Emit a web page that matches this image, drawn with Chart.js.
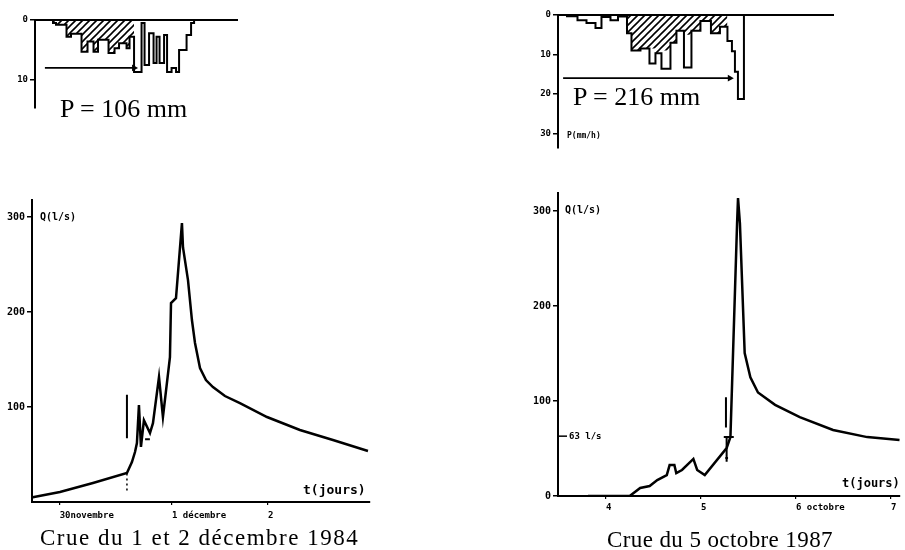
<!DOCTYPE html>
<html>
<head>
<meta charset="utf-8">
<script src="https://cdn.jsdelivr.net/npm/chart.js@4"></script>
<style>
  body { margin: 0; background: #fff; }
  #page { position: relative; width: 905px; height: 550px; overflow: hidden; }
  canvas, .txt { position: absolute; }
  .txt { white-space: nowrap; line-height: 1; color: #000; }
  .serif { font-family: 'Liberation Serif', serif; }
  .lab { font-family: 'DejaVu Sans Mono', monospace; font-weight: bold; }
</style>
</head>
<body>
<div id="page">
  <canvas id="hyetoLeft" width="245" height="111" style="left:0;top:5px"></canvas>
  <canvas id="hyetoRight" width="320" height="156" style="left:520px;top:0"></canvas>
  <canvas id="hydroLeft" width="378" height="340" style="left:0;top:190px"></canvas>
  <canvas id="hydroRight" width="385" height="340" style="left:520px;top:183px"></canvas>

  <div class="txt serif" style="left:60px;top:96px;font-size:26px">P = 106 mm</div>
  <div class="txt serif" style="left:573px;top:84px;font-size:26px">P = 216 mm</div>
  <div class="txt lab" style="left:567px;top:132px;font-size:8px">P(mm/h)</div>
  <div class="txt lab" style="left:40px;top:212px;font-size:10px">Q(l/s)</div>
  <div class="txt lab" style="left:565px;top:205px;font-size:10px">Q(l/s)</div>
  <div class="txt lab" style="left:303px;top:483px;font-size:13px">t(jours)</div>
  <div class="txt lab" style="left:842px;top:477px;font-size:12px">t(jours)</div>
  <div class="txt serif" style="left:40px;top:526px;font-size:23px;letter-spacing:1.5px">Crue du 1 et 2 décembre 1984</div>
  <div class="txt serif" style="left:607px;top:528px;font-size:23px;letter-spacing:0.4px">Crue du 5 octobre 1987</div>
</div>

<script>
// --- hyetograph 1984 (t = hours from axis origin, P = mm/h) ---
const hyLeftT = [6, 7, 10.5, 12, 15.5, 17.5, 19.5, 21, 24.5, 26.5, 28, 30.5, 31.5, 33,
  35.5, 36.5, 38, 39.5, 40.5, 41.5, 43, 44, 45.5, 47, 48, 50.5, 52, 53];
const hyLeftP = [0.5, 0.8, 2.8, 2.3, 5.3, 3.6, 5.3, 3.3, 5.5, 4.7, 3.9, 4.7, 2.8,
  8.7, 0.5, 7.5, 2.2, 7.2, 2.8, 7.2, 2.5, 8.7, 8.0, 8.7, 5.0, 2.5, 0.5];
// hatched part = first 13 steps
const hyLeftHatchT = hyLeftT.slice(0, 14);
const hyLeftHatchP = hyLeftP.slice(0, 13);
const hyLeftArrowT = [3.3, 33];
const hyLeftArrowP = [8, 8];

// --- hyetograph 1987 ---
const hyRightT = [3, 6.5, 9.5, 12.5, 14.5, 17.5, 20, 23, 24.5, 27.5, 30.5, 32.5, 34.5,
  37.5, 39.5, 42, 44.5, 47.5, 51, 54, 56.5, 58, 59, 60, 62];
const hyRightP = [0.3, 1.3, 2.0, 3.3, 0.5, 1.3, 0.4, 4.6, 9.0, 8.5, 12.3, 9.7, 13.6,
  7.0, 4.0, 13.3, 4.0, 1.5, 4.6, 3.0, 6.6, 9.2, 14.4, 21.3];
const hyRightHatchT = [23, 24.5, 27.5, 30.5, 32.5, 34.5, 37.5, 39.5, 42, 44.5, 47.5, 51, 54, 56.5];
const hyRightHatchP = [4.6, 9.0, 8.5, 8.5, 9.7, 9.0, 7.0, 4.0, 5.0, 4.0, 1.5, 4.6, 3.0];
const hyRightArrowT = [1.7, 57.3];
const hyRightArrowP = [16, 16];

// --- hydrograph 1984 (day: 0 = 30 nov, 1 = 1 déc ; Q in l/s) ---
const qLeftDay = [-0.45, -0.167, 0.177, 0.531, 0.583, 0.615, 0.635, 0.656, 0.677, 0.708,
  0.771, 0.802, 0.865, 0.906, 0.979, 0.99, 1.042, 1.104, 1.115, 1.167, 1.208, 1.24,
  1.292, 1.354, 1.427, 1.552, 1.708, 1.99, 2.333, 2.677, 3.042];
const qLeftQ = [5, 10.5, 20, 30.5, 42, 52.6, 62, 102, 58, 86,
  72.6, 83, 131.6, 89.5, 152.6, 209.5, 214.7, 293.7, 268, 233.7, 191.6, 167.4,
  141, 128.4, 121, 111.6, 104, 89.5, 75.8, 65.3, 53.7];
// gauging marks (vertical bars), null = break
const markLeftDay = [0.531, 0.531, 0.6, 0.72, 0.77];
const markLeftQ = [113, 67, null, 66, 66];
const markLeftDashDay = [0.531, 0.531];
const markLeftDashQ = [30, 12];
const tickLeftDay = [-0.17, 1, 2];
const tickLeftText = ['30novembre', '1 décembre', '2'];

// --- hydrograph 1987 (day of october) ---
const qRightDay = [3.81, 4.25, 4.36, 4.46, 4.54, 4.64, 4.67, 4.72, 4.74, 4.80, 4.92, 4.96,
  5.04, 5.27, 5.31, 5.38, 5.39, 5.41, 5.46, 5.52, 5.6, 5.78, 6.04, 6.39, 6.75, 7.09];
const qRightQ = [0, 0, 8.4, 10.5, 16.8, 22, 32.6, 32.6, 24, 27.4, 39, 27.4,
  22, 50.5, 62, 287, 313.7, 287, 150.5, 125, 109, 96, 83, 69.5, 62, 59];
const markRightDay = [5.263, 5.263, 5.28, 5.24, 5.345, 5.3, 5.27, 5.27, 5.28, 5.255, 5.285];
const markRightQ = [104, 72, null, 62, 62, null, 61, 36, null, 40, 40];
const tickRightDay = [4, 5, 6, 7];
const tickRightText = ['4', '5', '6 octobre', '7'];
const refQ = 63;
const refLabel = '63 l/s';

Chart.defaults.color = '#000';
Chart.defaults.font.family = "'DejaVu Sans Mono', monospace";
Chart.defaults.font.weight = 'bold';
Chart.defaults.font.size = 9;
Chart.defaults.animation = false;
Chart.defaults.plugins.legend.display = false;
Chart.defaults.plugins.tooltip.enabled = false;
Chart.defaults.elements.point.radius = 0;
Chart.defaults.elements.line.tension = 0;

const zip = (xs, ys) => xs.map((x, i) => ({ x, y: ys[i] }));

// step outline: t has one more entry than p
function stepPts(t, p) {
  const pts = [{ x: t[0], y: 0 }];
  p.forEach((v, i) => pts.push({ x: t[i], y: v }));
  pts.push({ x: t[t.length - 1], y: 0 });
  return pts;
}

function hatch(ctx) {
  const c = document.createElement('canvas');
  c.width = 7; c.height = 7;
  const g = c.getContext('2d');
  g.strokeStyle = '#000';
  g.lineWidth = 1.6;
  g.beginPath();
  g.moveTo(0, 7); g.lineTo(7, 0);
  g.moveTo(-1, 1); g.lineTo(1, -1);
  g.moveTo(6, 8); g.lineTo(8, 6);
  g.stroke();
  return ctx.createPattern(c, 'repeat');
}

function yAxis(min, max, ticks, width, reverse, fontSize) {
  return {
    type: 'linear', min, max, reverse,
    afterBuildTicks: s => { s.ticks = ticks.map(v => ({ value: v })); },
    afterFit: s => { s.width = width; },
    ticks: { padding: 2, font: { size: fontSize } },
    grid: { drawOnChartArea: false, tickLength: 5, color: '#000', lineWidth: 1.5 },
    border: { color: '#000', width: 2 },
  };
}

function hyetoChart(id, t, p, ht, hp, at, ap, xMax, yMax, yTicks, yWidth, padRight) {
  const el = document.getElementById(id);
  return new Chart(el, {
    type: 'line',
    data: {
      datasets: [
        { data: stepPts(ht, hp), stepped: true, fill: 'origin', backgroundColor: hatch(el.getContext('2d')),
          borderColor: 'rgba(0,0,0,0)', borderWidth: 1 },
        { data: stepPts(t, p), stepped: true, fill: false, borderColor: '#000', borderWidth: 2 },
        { data: zip(at, ap), borderColor: '#000', borderWidth: 1.8, pointRadius: [0, 4],
          pointStyle: 'triangle', pointRotation: 90, pointBackgroundColor: '#000', pointBorderWidth: 0 },
      ],
    },
    options: {
      responsive: false,
      layout: { padding: { right: padRight, bottom: 8 } },
      scales: {
        x: {
          type: 'linear', position: 'top', min: 0, max: xMax,
          ticks: { display: false }, grid: { display: false },
          border: { color: '#000', width: 2 },
          afterFit: s => { s.height = 15; },
        },
        y: yAxis(0, yMax, yTicks, yWidth, true, 9),
      },
    },
  });
}

hyetoChart('hyetoLeft', hyLeftT, hyLeftP, hyLeftHatchT, hyLeftHatchP, hyLeftArrowT, hyLeftArrowP,
  67.3, 14.7, [0, 10], 35, 8);
hyetoChart('hyetoRight', hyRightT, hyRightP, hyRightHatchT, hyRightHatchP, hyRightArrowT, hyRightArrowP,
  91.7, 33.7, [0, 10, 20, 30], 38, 7);

// short tick + label for the 63 l/s level
const refMark = {
  id: 'refMark',
  afterDatasetsDraw(chart) {
    const ctx = chart.ctx;
    const y = chart.scales.y.getPixelForValue(refQ);
    const x0 = chart.chartArea.left;
    ctx.save();
    ctx.strokeStyle = '#000';
    ctx.lineWidth = 1.5;
    ctx.beginPath(); ctx.moveTo(x0, y); ctx.lineTo(x0 + 9, y); ctx.stroke();
    ctx.fillStyle = '#000';
    ctx.font = "bold 9px 'DejaVu Sans Mono'";
    ctx.textBaseline = 'middle';
    ctx.fillText(refLabel, x0 + 11, y);
    ctx.restore();
  },
};

function hydroChart(id, day, q, marks, dashMarks, xMin, xMax, yMax, yTicks, yWidth,
  tickDay, tickText, pad, xHeight, tickPad, plugins) {
  const datasets = [
    { data: zip(day, q), borderColor: '#000', borderWidth: 2.5 },
    { data: marks, borderColor: '#000', borderWidth: 2, spanGaps: false },
  ];
  if (dashMarks) datasets.push({ data: dashMarks, borderColor: '#000', borderWidth: 1.5, borderDash: [2, 3] });
  return new Chart(document.getElementById(id), {
    type: 'line',
    data: { datasets },
    plugins,
    options: {
      responsive: false,
      layout: { padding: pad },
      scales: {
        x: {
          type: 'linear', min: xMin, max: xMax,
          afterBuildTicks: s => { s.ticks = tickDay.map(v => ({ value: v })); },
          afterFit: s => { s.height = xHeight; },
          ticks: { align: 'start', maxRotation: 0, autoSkip: false, padding: tickPad,
            callback: (v, i) => tickText[i] },
          grid: { drawOnChartArea: false, tickLength: 3, color: '#000', lineWidth: 1.2 },
          border: { color: '#000', width: 2 },
        },
        y: yAxis(0, yMax, yTicks, yWidth, false, 10),
      },
    },
  });
}

hydroChart('hydroLeft', qLeftDay, qLeftQ, zip(markLeftDay, markLeftQ), zip(markLeftDashDay, markLeftDashQ),
  -0.458, 3.063, 318, [100, 200, 300], 32, tickLeftDay, tickLeftText,
  { top: 10, right: 8 }, 28, 5, []);
hydroChart('hydroRight', qRightDay, qRightQ, zip(markRightDay, markRightQ), null,
  3.495, 7.095, 319, [0, 100, 200, 300], 38, tickRightDay, tickRightText,
  { top: 10, right: 5 }, 27, 3, [refMark]);
</script>
</body>
</html>
